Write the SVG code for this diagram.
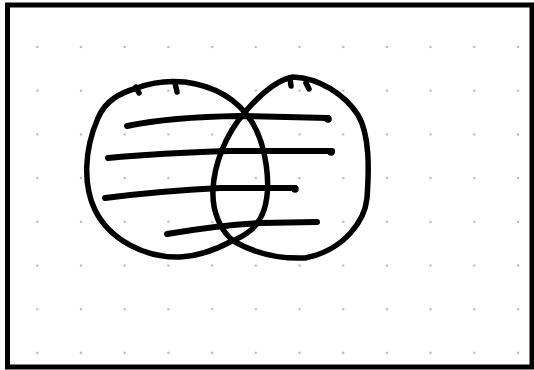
<svg xmlns="http://www.w3.org/2000/svg" width="534" height="370" viewBox="0 0 534 370">
<defs>
<pattern id="dots" x="15.45" y="25.15" width="43.7" height="43.7" patternUnits="userSpaceOnUse">
<circle cx="21.85" cy="21.85" r="1.3" fill="#bdbdbd"/>
</pattern>
<style>
.ink{fill:none;stroke:#000;stroke-width:5.5;stroke-linecap:round;stroke-linejoin:round}
.bar{fill:none;stroke:#000;stroke-width:6;stroke-linecap:round;stroke-linejoin:round}
.blob{fill:#000}
</style>
</defs>
<rect x="0" y="0" width="534" height="370" fill="#fff"/>
<rect x="7.5" y="5" width="524.5" height="362" fill="url(#dots)" stroke="#000" stroke-width="5"/>
<g id="left-circle">
<path class="ink" d="M185,82 C215,86 238,100 252,122 C266,145 272,185 264,210 C258,228 245,236 230,242 C215,250 200,256 180,257 C145,258 110,240 95,210 C83,185 84,150 98,118 C106,100 120,93 137,88 C150,83 165,80 185,82 Z"/>
<path class="ink" d="M136,87 L139,93 M175,83 L177,92"/>
</g>
<g id="right-circle">
<path class="ink" d="M293,77 C320,78 345,95 358,115 C370,135 369,170 367,198 C365,220 345,250 305,258 C280,259 255,253 235,242 C220,232 212,210 213,190 C214,165 225,135 245,112 C258,97 275,80 293,77 Z"/>
<path class="ink" d="M290,78 L291,86 M306,83 L309,89"/>
</g>
<g id="strokes">
<path class="bar" d="M127,126 Q170,117 240,116 L328,118"/>
<circle class="blob" cx="328" cy="119" r="3.8"/>
<path class="bar" d="M108,158 Q160,153 230,151 L332,151"/>
<circle class="blob" cx="331" cy="152" r="3.8"/>
<path class="bar" d="M105,198 Q160,191 220,188 L295,188"/>
<circle class="blob" cx="295" cy="189" r="3.8"/>
<path class="bar" d="M167,234 Q220,225 260,223 L317,222"/>
</g>
</svg>
